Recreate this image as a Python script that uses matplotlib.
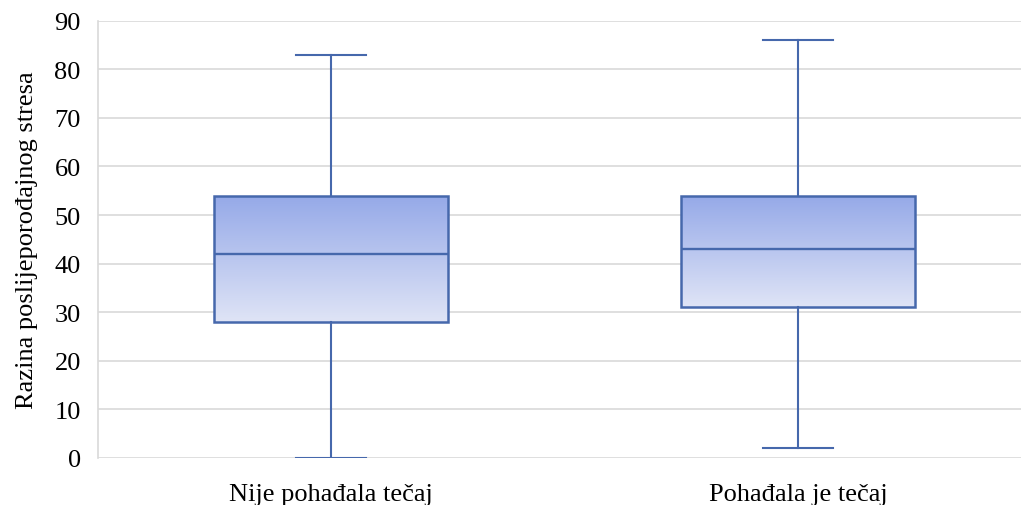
import numpy as np
import matplotlib.pyplot as plt
from matplotlib.colors import LinearSegmentedColormap

# Data
categories = ['Nije pohađala tečaj', 'Pohađala je tečaj']
whis_low = [0, 2]
q1 = [28, 31]
medians = [42, 43]
q3 = [54, 54]
whis_high = [83, 86]
yticks = list(range(0, 91, 10))

plt.rcParams['font.family'] = ['Liberation Serif', 'DejaVu Serif']

edge = '#4668ac'
grad = LinearSegmentedColormap.from_list('g', ['#dfe4f6', '#95a9e8'])

fig = plt.figure(figsize=(10.21, 5.06), dpi=100)
# plot area runs past the right edge of the picture, as in the original crop
ax = fig.add_axes([0.0955, 0.093, 0.915, 0.864])

stats = []
for i in range(len(categories)):
    stats.append({'whislo': whis_low[i], 'q1': q1[i], 'med': medians[i],
                  'q3': q3[i], 'whishi': whis_high[i], 'fliers': []})

bw = 0.502
pos = np.arange(len(categories)) + 0.5
bp = ax.bxp(stats, positions=pos, widths=bw, patch_artist=True,
            showfliers=False, capwidths=0.15,
            boxprops=dict(facecolor='none', edgecolor=edge, linewidth=1.8),
            medianprops=dict(color=edge, linewidth=1.7),
            whiskerprops=dict(color=edge, linewidth=1.5),
            capprops=dict(color=edge, linewidth=1.5), zorder=3)

# gradient fill inside each box
g = np.linspace(0, 1, 256).reshape(-1, 1)
for i, patch in enumerate(bp['boxes']):
    im = ax.imshow(g, cmap=grad, aspect='auto', origin='lower',
                   extent=[pos[i] - bw / 2, pos[i] + bw / 2, q1[i], q3[i]],
                   zorder=2)
    im.set_clip_path(patch)

ax.set_xlim(0, 2)
ax.set_ylim(0, 90)
ax.set_yticks(yticks)
ax.set_xticks(pos)
ax.set_xticklabels(categories, fontsize=19)
ax.tick_params(axis='y', labelsize=19, length=0, pad=12)
ax.tick_params(axis='x', length=0, pad=18)
ax.grid(axis='y', color='#d9d9d9', linewidth=1.2)
ax.set_axisbelow(True)
for s in ['top', 'right', 'bottom']:
    ax.spines[s].set_visible(False)
ax.spines['left'].set_color('#d9d9d9')
ax.spines['left'].set_linewidth(1.2)
ax.set_ylabel('Razina poslijeporođajnog stresa', fontsize=19, labelpad=12)

fig.savefig('out.png', dpi=100)
